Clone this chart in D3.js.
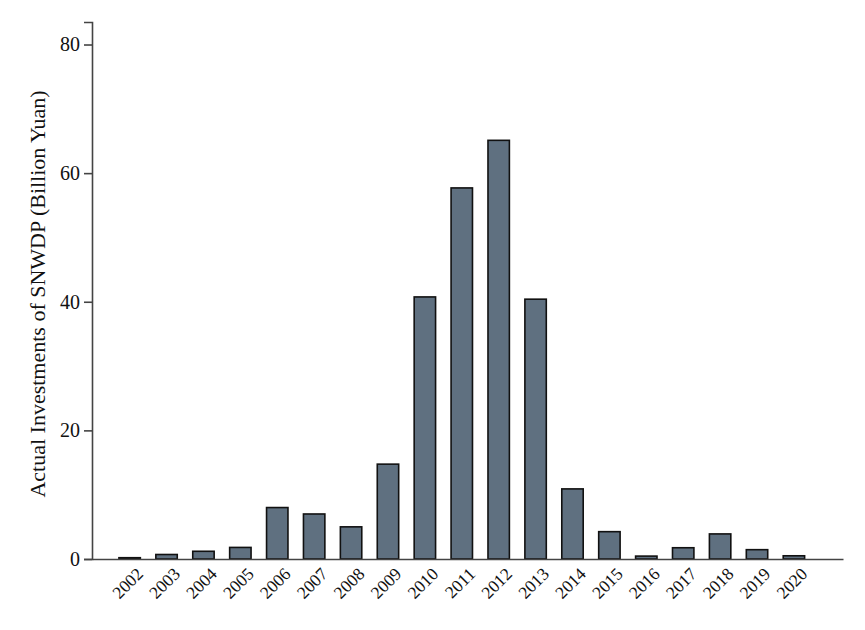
<!DOCTYPE html>
<html lang="en">
<head>
    <meta charset="UTF-8" />
    <script src="https://d3js.org/d3.v7.min.js"></script>
    <title>Actual Investments of SNWDP</title>
    <style>
        body { margin: 0; background: #fff; }
        text { font-family: "Liberation Serif", "DejaVu Serif", serif; fill: #111; }
    </style>
</head>
<body>
<div id="my_chart"></div>
<script>
    // Data
    var years = [2002, 2003, 2004, 2005, 2006, 2007, 2008, 2009, 2010, 2011,
                 2012, 2013, 2014, 2015, 2016, 2017, 2018, 2019, 2020];
    var investments = [0.2, 0.7, 1.2, 1.8, 8.0, 7.0, 5.0, 14.75, 40.75, 57.7,
                       65.1, 40.4, 10.9, 4.25, 0.45, 1.75, 3.9, 1.45, 0.5];
    var yTicks = [0, 20, 40, 60, 80];

    var data = years.map((y, i) => ({ year: y, value: investments[i] }));

    var margin = { top: 22, right: 22, bottom: 71, left: 92 },
        width = 865 - margin.left - margin.right,
        height = 630 - margin.top - margin.bottom;

    const svg = d3.select("#my_chart")
        .append("svg")
        .attr("width", 865)
        .attr("height", 630)
        .append("g")
        .attr("transform", "translate(" + margin.left + "," + margin.top + ")");

    // X scale (linear in years, with extra room on the right like the original)
    const x = d3.scaleLinear()
        .domain([2000.98, 2021.33])
        .range([0, width]);
    const barW = x(2002.58) - x(2002);

    // Y scale
    const y = d3.scaleLinear()
        .domain([0, 83.5])
        .range([height, 0]);

    // Bars
    svg.selectAll("rect.bar")
        .data(data)
        .enter()
        .append("rect")
        .attr("class", "bar")
        .attr("x", d => x(d.year) - barW / 2)
        .attr("y", d => y(d.value))
        .attr("width", barW)
        .attr("height", d => y(0) - y(d.value))
        .attr("fill", "#5f7080")
        .attr("stroke", "#111")
        .attr("stroke-width", 1.6);

    // X axis
    const xAxis = svg.append("g")
        .attr("transform", `translate(0, ${height})`)
        .call(d3.axisBottom(x).tickValues(years).tickFormat(d3.format("d")).tickSize(0).tickPadding(0));
    xAxis.select(".domain").attr("stroke", "#444").attr("stroke-width", 1.6);
    xAxis.selectAll("text")
        .attr("y", 0)
        .attr("dy", 0)
        .attr("transform", "translate(5,7)rotate(-45)")
        .style("text-anchor", "end")
        .style("font-size", "17.5px")
        .attr("dominant-baseline", "hanging");

    // Y axis
    const yAxis = svg.append("g")
        .call(d3.axisLeft(y).tickValues(yTicks).tickSize(8).tickPadding(4));
    yAxis.select(".domain").attr("stroke", "#444").attr("stroke-width", 1.6);
    yAxis.selectAll(".tick line").attr("stroke", "#444").attr("stroke-width", 1.6);
    yAxis.selectAll("text").style("font-size", "20px");

    // Y axis label
    svg.append("text")
        .attr("transform", "rotate(-90)")
        .attr("x", -272)
        .attr("y", -47)
        .style("text-anchor", "middle")
        .style("font-size", "22px")
        .text("Actual Investments of SNWDP (Billion Yuan)");
</script>
</body>
</html>
